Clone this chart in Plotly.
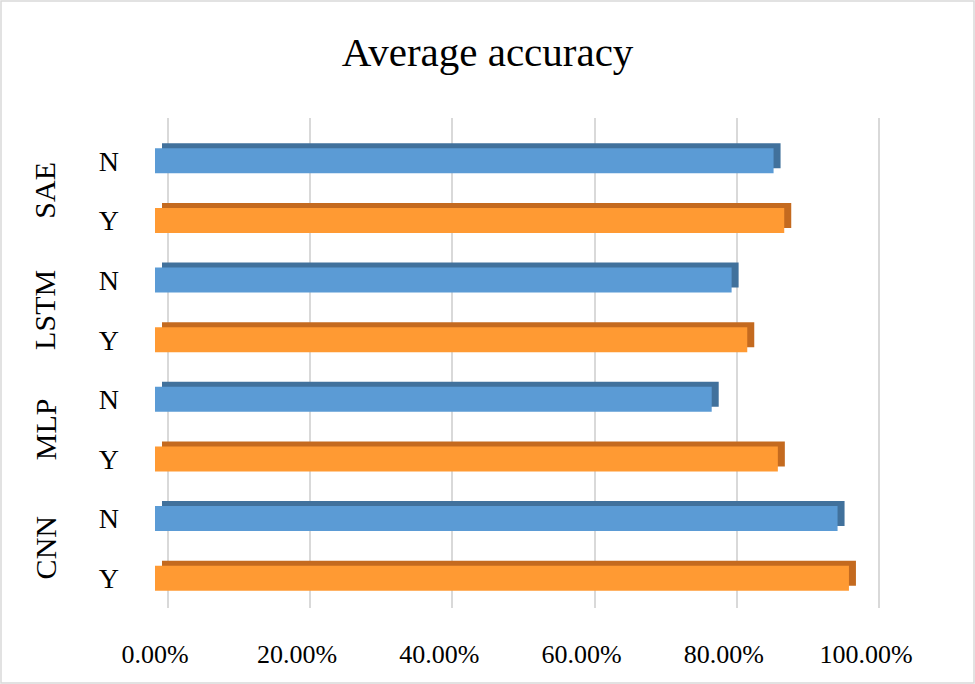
import plotly.graph_objects as go

# model groups and the Y/N variants, bottom to top
groups = ["CNN", "MLP", "LSTM", "SAE"]
variants = ["Y", "N"]
acc_y = [0.976, 0.876, 0.833, 0.885]
acc_n = [0.960, 0.783, 0.811, 0.870]
x_ticks = [0, 0.2, 0.4, 0.6, 0.8, 1.0]

blue, blue_dark = "#5B9BD5", "#41719C"
orange, orange_dark = "#FF9A33", "#C46A1F"
font = "Liberation Serif"

cats = []
vals = []
cols = []
edge_cols = []
for g, y, n in zip(groups, acc_y, acc_n):
    cats += [g + " " + variants[0], g + " " + variants[1]]
    vals += [y, n]
    cols += [orange, blue]
    edge_cols += [orange_dark, blue_dark]

L, R, T, B = 155, 89, 118, 76
W, H = 975, 684
pw = W - L - R
ph = H - T - B
px_per_unit = 711
row_px = 59.6

bar_w = 0.42
depth_x = 7 / px_per_unit   # how far the darker side pokes out
depth_y = 5 / row_px        # height of the darker top face

fig = go.Figure()
# darker "3d" top and side, drawn under the bar face
fig.add_trace(go.Bar(
    y=cats, x=vals, base=depth_x, orientation="h",
    marker=dict(color=edge_cols, line=dict(width=0)),
    width=bar_w, offset=-bar_w / 2 + depth_y,
    showlegend=False, hoverinfo="skip",
))
fig.add_trace(go.Bar(
    y=cats, x=vals, orientation="h",
    marker=dict(color=cols, line=dict(width=0)),
    width=bar_w, offset=-bar_w / 2,
    showlegend=False, hoverinfo="x+y",
))
# empty trace so the shifted back-wall grid axis gets drawn
fig.add_trace(go.Scatter(x=[], y=[], xaxis="x2", showlegend=False))

off = 13 / px_per_unit
top_extra = (131 - T) / row_px
fig.update_layout(
    width=W, height=H,
    margin=dict(l=L, r=R, t=T, b=B),
    paper_bgcolor="white", plot_bgcolor="white",
    barmode="overlay",
    title=dict(text="Average accuracy", x=0.5, xref="container", xanchor="center",
               y=1 - 52 / H, yref="container", yanchor="middle",
               font=dict(family=font, size=41, color="black")),
    xaxis=dict(range=[0, pw / px_per_unit], tickvals=x_ticks, tickformat=".2%",
               showgrid=False, zeroline=False, showline=False,
               tickfont=dict(family=font, size=26, color="black"),
               ticklabelstandoff=28),
    xaxis2=dict(overlaying="x", range=[-off, pw / px_per_unit - off],
                tickvals=x_ticks, showticklabels=False,
                showgrid=True, gridcolor="#D9D9D9", gridwidth=2,
                zeroline=False, showline=False),
    yaxis=dict(type="category", categoryorder="array", categoryarray=cats,
               range=[-0.5, len(cats) - 0.5 + top_extra],
               tickvals=cats, ticktext=[c.split(" ")[1] for c in cats],
               showgrid=False, zeroline=False, showline=False,
               tickfont=dict(family=font, size=28, color="black"),
               ticklabelstandoff=35),
)

for i, g in enumerate(groups):
    fig.add_annotation(
        text=g, xref="paper", x=(45 - L) / pw, yref="y", y=2 * i + 0.5,
        textangle=-90, showarrow=False, xanchor="center", yanchor="middle",
        font=dict(family=font, size=30, color="black"),
    )

# light border round the whole chart
fig.add_shape(type="rect", xref="paper", yref="paper",
              x0=-(L - 1) / pw, x1=1 + (R - 1) / pw,
              y0=-(B - 1) / ph, y1=1 + (T - 1) / ph,
              line=dict(color="#D9D9D9", width=1.5), layer="below")

# page has a default body margin; drop it so the chart sits at 0,0
fig.write_html("out.html", config={"displayModeBar": False},
               post_script="document.body.style.margin='0';")
